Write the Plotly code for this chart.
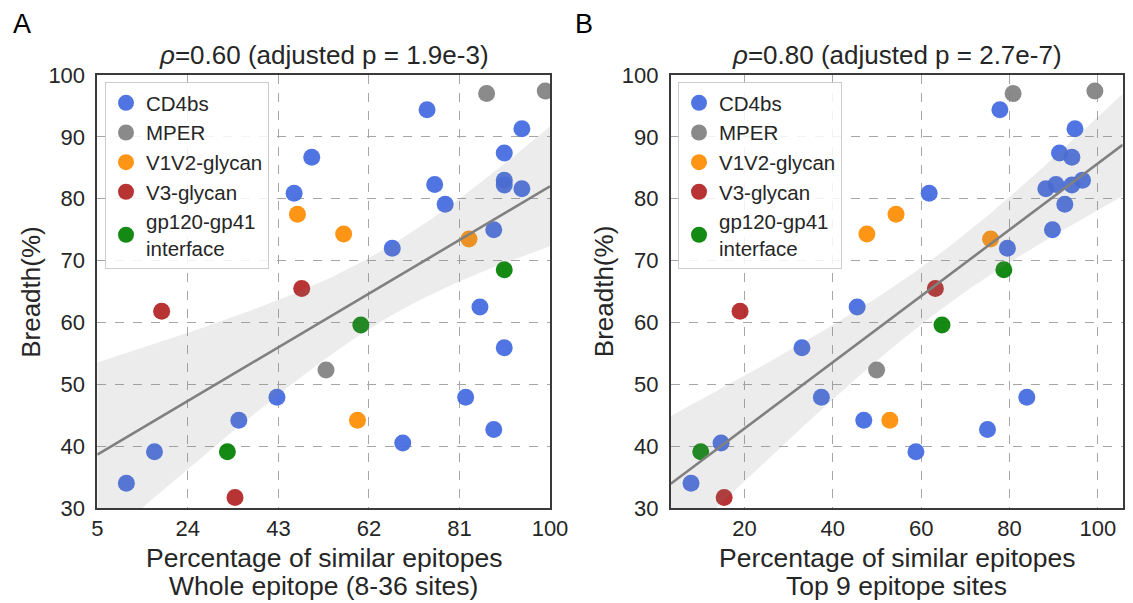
import numpy as np
import plotly.graph_objects as go

# ---------------- data ----------------
groups = ["CD4bs", "MPER", "V1V2-glycan", "V3-glycan", "gp120-gp41<br>interface"]
group_colors = ["#4169E1", "#808080", "#FF8C00", "#B22222", "#008000"]

# breadth (%) per antibody
cd4bs_breadth = [94.4, 91.3, 87.4, 86.7, 83.0, 82.3, 82.2, 81.6, 80.9, 79.1, 75.0,
                 72.0, 62.5, 55.9, 47.9, 47.9, 44.2, 42.7, 40.5, 39.1, 34.0]
cd4bs_whole = [74.2, 94.1, 90.4, 50.0, 90.4, 75.8, 90.4, 94.1, 46.3, 78.0, 88.2,
               66.9, 85.3, 90.4, 42.7, 82.3, 34.7, 88.2, 69.1, 17.0, 11.1]
cd4bs_top9 = [77.8, 94.8, 91.3, 94.1, 96.5, 90.5, 94.1, 88.2, 61.8, 92.5, 89.7,
              79.5, 45.5, 33.0, 37.4, 83.9, 47.0, 75.0, 14.7, 58.8, 7.9]

mper_breadth = [97.0, 97.4, 52.3]
mper_whole = [86.7, 99.0, 53.0]
mper_top9 = [80.8, 99.3, 49.9]

v1v2_breadth = [77.5, 74.3, 73.5, 44.2]
v1v2_whole = [47.0, 56.7, 83.0, 59.6]
v1v2_top9 = [54.3, 47.7, 75.7, 52.9]

v3_breadth = [65.5, 61.8, 31.7]
v3_whole = [47.9, 18.5, 33.9]
v3_top9 = [63.2, 19.0, 15.4]

interface_breadth = [68.5, 59.6, 39.1]
interface_whole = [90.4, 60.3, 32.3]
interface_top9 = [78.7, 64.7, 10.1]

breadth_by_group = [cd4bs_breadth, mper_breadth, v1v2_breadth, v3_breadth, interface_breadth]
whole_by_group = [cd4bs_whole, mper_whole, v1v2_whole, v3_whole, interface_whole]
top9_by_group = [cd4bs_top9, mper_top9, v1v2_top9, v3_top9, interface_top9]

titles = ["<i>ρ</i>=0.60 (adjusted p = 1.9e-3)", "<i>ρ</i>=0.80 (adjusted p = 2.7e-7)"]
xlabel_line1 = "Percentage of similar epitopes"
xlabel_line2 = ["Whole epitope (8-36 sites)", "Top 9 epitope sites"]
ylabel = "Breadth(%)"
panel_letters = ["A", "B"]
x_ticks_left = [5, 24, 43, 62, 81, 100]
x_ticks_right = [20, 40, 60, 80, 100]
y_ticks = [30, 40, 50, 60, 70, 80, 90, 100]

# ---------------- figure ----------------
# the page body has an 8px margin, so the figure is drawn 8px smaller and
# reference pixel positions are shifted by that offset
OFF = 8
W, H = 1133 - OFF, 603 - OFF
FONT = "Liberation Sans, Arial, Helvetica, sans-serif"
TXT = "#262626"


def px(xpix):
    return (xpix - OFF) / W


def py(ypix):
    return 1 - (ypix - OFF) / H


fig = go.Figure()

x_ranges = [[5, 100], [3.3, 105.6]]
x_domains = [[px(97.3), px(550)], [px(670.7), px(1122.7)]]
y_domain = [py(508), py(75)]

panels = [("x", "y", whole_by_group, "legend"), ("x2", "y2", top9_by_group, "legend2")]

for p, (xa, ya, xs_by_group, leg) in enumerate(panels):
    # scatter points
    for g, name in enumerate(groups):
        fig.add_trace(go.Scatter(
            x=xs_by_group[g], y=breadth_by_group[g], mode="markers", name=name,
            marker=dict(color=group_colors[g], size=17, opacity=0.92, line=dict(width=0)),
            xaxis=xa, yaxis=ya, legend=leg, showlegend=True,
        ))
    # regression with 95% CI
    xall = np.concatenate([np.asarray(v, float) for v in xs_by_group])
    yall = np.concatenate([np.asarray(v, float) for v in breadth_by_group])
    n = len(xall)
    b1, b0 = np.polyfit(xall, yall, 1)
    resid = yall - (b0 + b1 * xall)
    s = np.sqrt(np.sum(resid ** 2) / (n - 2))
    xbar = xall.mean()
    sxx = np.sum((xall - xbar) ** 2)
    xg = np.linspace(x_ranges[p][0], x_ranges[p][1], 100)
    yg = b0 + b1 * xg
    half = 2.037 * s * np.sqrt(1.0 / n + (xg - xbar) ** 2 / sxx)
    fig.add_trace(go.Scatter(
        x=np.concatenate([xg, xg[::-1]]), y=np.concatenate([yg + half, (yg - half)[::-1]]),
        fill="toself", fillcolor="rgba(128,128,128,0.15)", line=dict(width=0),
        mode="lines", hoverinfo="skip", showlegend=False, xaxis=xa, yaxis=ya,
    ))
    fig.add_trace(go.Scatter(
        x=xg, y=yg, mode="lines", line=dict(color="rgb(128,128,128)", width=2.6),
        hoverinfo="skip", showlegend=False, xaxis=xa, yaxis=ya,
    ))

axis_common = dict(
    showgrid=True, gridcolor="#a6a6a6", gridwidth=1, griddash="dash",
    showline=True, mirror=True, linecolor="#3a3a3a", linewidth=1.6,
    zeroline=False, ticks="", automargin=False,
    tickfont=dict(size=22, color=TXT, family=FONT),
)

legend_common = dict(
    xanchor="left", yanchor="top",
    bgcolor="rgba(255,255,255,0.85)", bordercolor="#cccccc", borderwidth=1,
    font=dict(size=20.5, color=TXT, family=FONT), tracegroupgap=0,
)

fig.update_layout(
    width=W, height=H,
    margin=dict(l=0, r=0, t=0, b=0),
    paper_bgcolor="white", plot_bgcolor="white",
    font=dict(family=FONT, color=TXT),
    xaxis=dict(domain=x_domains[0], range=x_ranges[0], tickvals=x_ticks_left,
               anchor="y", **axis_common),
    yaxis=dict(domain=y_domain, range=[30, 100], tickvals=y_ticks, anchor="x",
               ticklabelstandoff=6, **axis_common),
    xaxis2=dict(domain=x_domains[1], range=x_ranges[1], tickvals=x_ticks_right,
                anchor="y2", **axis_common),
    yaxis2=dict(domain=y_domain, range=[30, 100], tickvals=y_ticks, anchor="x2",
                ticklabelstandoff=6, **axis_common),
    legend=dict(x=px(105), y=py(82), **legend_common),
    legend2=dict(x=px(678), y=py(82), **legend_common),
    showlegend=True,
)

annotations = []
for p in range(2):
    cx = (x_domains[p][0] + x_domains[p][1]) / 2
    left_px = [97.3, 670.7][p]
    annotations.append(dict(text=titles[p], x=cx, y=py(55), xref="paper", yref="paper",
                            xanchor="center", yanchor="middle", showarrow=False,
                            font=dict(size=26, color=TXT, family=FONT)))
    annotations.append(dict(text=xlabel_line1, x=cx, y=py(558), xref="paper", yref="paper",
                            xanchor="center", yanchor="middle", showarrow=False,
                            font=dict(size=26.5, color=TXT, family=FONT)))
    annotations.append(dict(text=xlabel_line2[p], x=cx, y=py(586), xref="paper", yref="paper",
                            xanchor="center", yanchor="middle", showarrow=False,
                            font=dict(size=26.5, color=TXT, family=FONT)))
    annotations.append(dict(text=ylabel, x=px(left_px - 67), y=(y_domain[0] + y_domain[1]) / 2,
                            xref="paper", yref="paper", xanchor="center", yanchor="middle",
                            textangle=-90, showarrow=False,
                            font=dict(size=26, color=TXT, family=FONT)))
    annotations.append(dict(text=panel_letters[p], x=px([22, 584][p]), y=py(24),
                            xref="paper", yref="paper", xanchor="center", yanchor="middle",
                            showarrow=False, font=dict(size=27, color="black", family=FONT)))
fig.update_layout(annotations=annotations)

fig.write_html("out.html")
